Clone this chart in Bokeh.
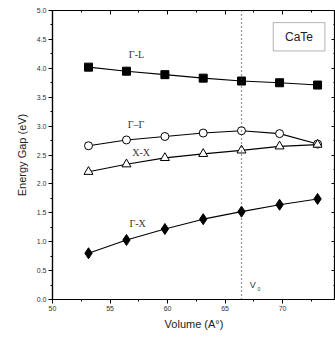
from bokeh.plotting import figure
from bokeh.models import (LinearAxis, Range1d, Span, Label, BoxAnnotation,
                          SingleIntervalTicker, ColumnDataSource, NumeralTickFormatter)
from bokeh.embed import file_html
from bokeh.resources import INLINE

volume = [53.13, 56.43, 59.77, 63.1, 66.43, 69.74, 73.04]
gap_GL = [4.02, 3.95, 3.89, 3.83, 3.78, 3.75, 3.71]
gap_GG = [2.66, 2.76, 2.82, 2.88, 2.92, 2.87, 2.69]
gap_XX = [2.21, 2.34, 2.45, 2.52, 2.58, 2.65, 2.68]
gap_GX = [0.80, 1.03, 1.22, 1.39, 1.52, 1.64, 1.74]
v0 = 66.43
x_ticks = [50, 55, 60, 65, 70, 75]
y_ticks = [0.0, 0.5, 1.0, 1.5, 2.0, 2.5, 3.0, 3.5, 4.0, 4.5, 5.0]

FONT = "Liberation Sans"
SERIF = "Liberation Serif"

p = figure(width=335, height=337, output_backend="svg", toolbar_location=None,
           x_range=Range1d(50, 74.6), y_range=Range1d(0, 5.0),
           min_border_left=52, min_border_right=0, min_border_top=10,
           min_border_bottom=38)
p.grid.visible = False
p.outline_line_color = "black"
p.outline_line_width = 1.2
p.background_fill_color = "white"
p.border_fill_color = "white"

p.xaxis.ticker = SingleIntervalTicker(interval=5, num_minor_ticks=2)
p.yaxis.ticker = SingleIntervalTicker(interval=0.5, num_minor_ticks=2)
p.yaxis.formatter = NumeralTickFormatter(format="0.0")
for ax in (p.xaxis[0], p.yaxis[0]):
    ax.axis_line_color = "black"
    ax.axis_line_width = 1.2
    ax.major_tick_in = 0
    ax.major_tick_out = 4
    ax.minor_tick_in = 0
    ax.minor_tick_out = 2
    ax.major_label_text_font = FONT
    ax.major_label_text_font_size = "7px"
    ax.major_label_text_color = "#333333"
    ax.axis_label_text_font = FONT
    ax.axis_label_text_font_size = "11px"
    ax.axis_label_text_font_style = "normal"
    ax.axis_label_text_color = "#222222"
    ax.major_label_standoff = 2
p.xaxis.axis_label = "Volume (A\u00b0)"
p.yaxis.axis_label = "Energy Gap (eV)"
p.xaxis.axis_label_standoff = 4
p.yaxis.axis_label_standoff = 6

top = LinearAxis(ticker=SingleIntervalTicker(interval=5, num_minor_ticks=2),
                 major_label_overrides={t: "" for t in x_ticks}, major_label_standoff=0,
                 major_tick_in=4, major_tick_out=0, minor_tick_in=2, minor_tick_out=0,
                 axis_line_color="black")
right = LinearAxis(ticker=SingleIntervalTicker(interval=0.5, num_minor_ticks=2),
                   major_label_overrides={t: "" for t in y_ticks}, major_label_standoff=0,
                   major_tick_in=4, major_tick_out=0, minor_tick_in=2, minor_tick_out=0,
                   axis_line_color="black")
p.add_layout(top, "above")
p.add_layout(right, "right")

p.add_layout(Span(location=v0, dimension="height", line_color="#333333",
                  line_dash="1 3", line_width=1.2))

src = ColumnDataSource(dict(v=volume, gl=gap_GL, gg=gap_GG, xx=gap_XX, gx=gap_GX))
lw = 1.1
p.line("v", "gl", source=src, line_color="black", line_width=lw)
p.scatter("v", "gl", source=src, marker="square", size=8, fill_color="black", line_color="black")
p.line("v", "gg", source=src, line_color="black", line_width=lw)
p.line("v", "xx", source=src, line_color="black", line_width=lw)
p.scatter("v", "gg", source=src, marker="circle", size=8, fill_color="white", line_color="black", line_width=1.0)
p.scatter("v", "xx", source=src, marker="triangle", size=9, fill_color="white", line_color="black", line_width=1.0)
p.line("v", "gx", source=src, line_color="black", line_width=lw)
p.scatter("v", "gx", source=src, marker="diamond", size=11, fill_color="black", line_color="black")

labels = [("\u0393-L", 57.3, 4.24), ("\u0393\u2013\u0393", 57.26, 3.03),
          ("X-X", 57.7, 2.55), ("\u0393-X", 57.4, 1.32)]
for t, x, y in labels:
    p.add_layout(Label(x=x, y=y, text=t, text_font=SERIF, text_font_size="10px",
                       text_color="#333333", text_align="center", text_baseline="middle"))
p.add_layout(Label(x=67.4, y=0.25, text="V", text_font=FONT, text_font_size="9px",
                   text_color="#333333", text_align="center", text_baseline="middle"))
p.add_layout(Label(x=67.95, y=0.18, text="0", text_font=FONT, text_font_size="5px",
                   text_color="#333333", text_align="center", text_baseline="middle"))

p.add_layout(BoxAnnotation(left=69.19, right=73.68, bottom=4.30, top=4.79,
                           fill_color="white", fill_alpha=1.0, line_color="black",
                           line_width=1.0))
p.add_layout(Label(x=71.43, y=4.545, text="CaTe", text_font=FONT, text_font_size="12px",
                   text_color="#222222", text_align="center", text_baseline="middle"))

open("out.html", "w").write(file_html(p, INLINE))
